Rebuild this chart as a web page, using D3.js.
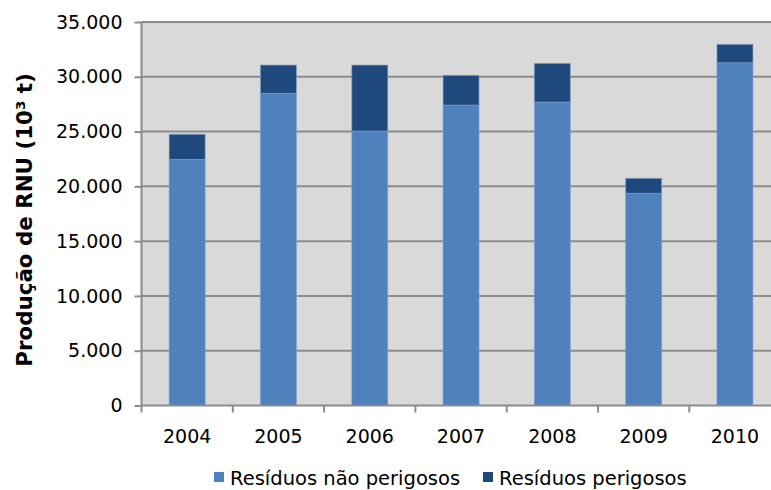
<!DOCTYPE html>
<html>
<head>
<meta charset="utf-8">
<script src="https://cdn.jsdelivr.net/npm/d3@7"></script>
<style>
  html, body { margin: 0; padding: 0; background: #ffffff; }
  svg { display: block; }
  text { font-family: "DejaVu Sans", Verdana, sans-serif; fill: #000; }
</style>
</head>
<body>
<svg id="chart" width="771" height="490"></svg>
<script>
const categories = ["2004", "2005", "2006", "2007", "2008", "2009", "2010"];
const naoPerigosos = [22460, 28490, 25050, 27420, 27690, 19360, 31280];
const perigosos = [2290, 2580, 6020, 2710, 3530, 1370, 1680];
const seriesNames = ["Resíduos não perigosos", "Resíduos perigosos"];
const yTicks = [0, 5000, 10000, 15000, 20000, 25000, 30000, 35000];

const colors = ["#4F81BD", "#1F497D"];
const svg = d3.select("#chart");

const pLeft = 141.5, pRight = 780.6, pTop = 22, pBottom = 405.5;

const x = d3.scaleBand().domain(categories).range([pLeft, pRight])
  .paddingInner(0.606).paddingOuter(0.303);
const y = d3.scaleLinear().domain([0, 35000]).range([pBottom, pTop]);

const fmt = v => d3.format(",")(v).replace(/,/g, ".");

// plot background
svg.append("rect").attr("x", pLeft).attr("y", pTop)
  .attr("width", pRight - pLeft).attr("height", pBottom - pTop)
  .attr("fill", "#D9D9D9");

// gridlines
svg.append("g").selectAll("line").data(yTicks.filter(d => d > 0)).join("line")
  .attr("x1", pLeft).attr("x2", pRight)
  .attr("y1", d => y(d)).attr("y2", d => y(d))
  .attr("stroke", "#8C8C8C").attr("stroke-width", 2);

// stacked data
const data = categories.map((c, i) => ({ cat: c, a: naoPerigosos[i], b: perigosos[i] }));
const stack = d3.stack().keys(["a", "b"])(data);

svg.append("g").selectAll("g").data(stack).join("g")
  .attr("fill", (d, i) => colors[i])
  .selectAll("rect").data(d => d).join("rect")
  .attr("x", d => x(d.data.cat))
  .attr("width", x.bandwidth())
  .attr("y", d => y(d[1]))
  .attr("height", d => y(d[0]) - y(d[1]))
  .attr("stroke", "#7FA0CB").attr("stroke-opacity", 0.6).attr("stroke-width", 1);

// y axis
const yAxis = d3.axisLeft(y).tickValues(yTicks).tickFormat(fmt).tickSize(7).tickPadding(12);
const gy = svg.append("g").attr("transform", `translate(${pLeft},0)`).call(yAxis);
gy.select(".domain").attr("stroke", "#8C8C8C").attr("stroke-width", 2).attr("d", `M0,${pTop}V${pBottom + 1}`);
gy.selectAll(".tick line").attr("stroke", "#8C8C8C").attr("stroke-width", 2);
gy.selectAll(".tick text").attr("font-size", 19).attr("font-family", "DejaVu Sans").attr("fill", "#000");

// x axis
const gx = svg.append("g").attr("transform", `translate(0,${pBottom})`);
gx.append("line").attr("x1", pLeft - 1).attr("x2", pRight).attr("y1", 0).attr("y2", 0)
  .attr("stroke", "#8C8C8C").attr("stroke-width", 2);
const step = x.step();
gx.selectAll("line.tk").data(d3.range(categories.length + 1)).join("line").attr("class", "tk")
  .attr("x1", i => pLeft + i * step).attr("x2", i => pLeft + i * step)
  .attr("y1", 0).attr("y2", 7)
  .attr("stroke", "#8C8C8C").attr("stroke-width", 2);
gx.selectAll("text").data(categories).join("text")
  .attr("x", d => x(d) + x.bandwidth() / 2)
  .attr("y", 37)
  .attr("text-anchor", "middle")
  .attr("font-size", 19)
  .text(d => d);

// y title
svg.append("text")
  .attr("transform", `translate(32,220) rotate(-90)`)
  .attr("text-anchor", "middle")
  .attr("font-size", 21.4).attr("font-weight", "bold")
  .text("Produção de RNU (10³ t)");

// legend
const legendItems = [
  { name: seriesNames[0], color: colors[0], x: 214 },
  { name: seriesNames[1], color: colors[1], x: 483 }
];
const lg = svg.append("g");
legendItems.forEach(it => {
  lg.append("rect").attr("x", it.x).attr("y", 472).attr("width", 10).attr("height", 10).attr("fill", it.color);
  lg.append("text").attr("x", it.x + 16).attr("y", 485).attr("font-size", 19.5).text(it.name);
});
</script>
</body>
</html>
